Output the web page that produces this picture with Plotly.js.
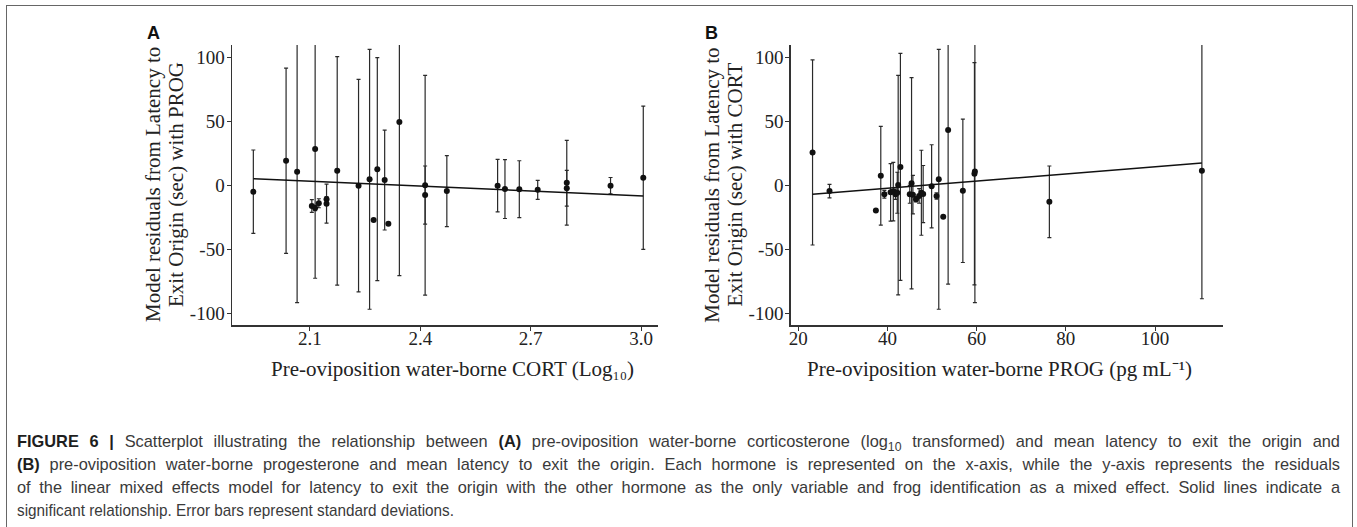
<!DOCTYPE html>
<html>
<head>
<meta charset="utf-8">
<script src="https://cdn.plot.ly/plotly-3.0.1.min.js"></script>
<style>
  html, body { margin: 0; padding: 0; background: #fff; width: 1357px; height: 527px; overflow: hidden; position: relative; }
  #frame { position: absolute; left: 6px; top: 5px; width: 1347px; height: 620px; border: 1.5px solid #666; box-sizing: border-box; pointer-events: none; }
  #chart { position: absolute; left: 0; top: 0; width: 1357px; height: 527px; }
  #caption { position: absolute; left: 0; top: 420px; width: 1357px; height: 107px; }
  .capline { position: absolute; left: 17px; height: 23px; line-height: 23px; white-space: nowrap;
             font-family: "Liberation Sans", Arial, sans-serif; font-size: 17px; color: #3a3a3a;
             transform-origin: 0 50%; text-align: left; }
  .capline.full { text-align: justify; text-align-last: justify; }
  .capline b { color: #1e1e1e; }
  .capline sub { font-size: 0.75em; line-height: 1; vertical-align: -0.3em; color: #3a3a3a; }
</style>
</head>
<body>
<div id="chart"></div>
<div id="frame"></div>
<div id="caption"></div>
<script>
// ---------------- Data ----------------
// Panel A: CORT (log10) vs residuals (model with PROG)
const cortX     = [1.946, 2.035, 2.065, 2.105, 2.114, 2.114, 2.124, 2.145, 2.145, 2.174, 2.232, 2.262, 2.273, 2.283, 2.303, 2.313, 2.343, 2.413, 2.413, 2.472, 2.610, 2.630, 2.669, 2.719, 2.798, 2.798, 2.917, 3.006];
const cortResid = [-4.7, 19.5, 10.9, -15.8, 28.7, -17.4, -13.7, -10.6, -14.0, 11.6, 0.0, 5.0, -26.8, 12.9, 4.4, -29.7, 49.8, 0.3, -7.3, -4.2, 0.0, -2.6, -2.7, -3.2, 2.3, -2.0, 0.0, 6.2];
const cortSD    = [32.6, 72.4, 102.3, 5.0, 101.0, 2.0, 3.5, 2.0, 15.2, 89.2, 83.0, 101.5, 0, 87.1, 39.0, 0, 120.1, 85.8, 22.7, 27.7, 20.5, 23.0, 22.2, 7.4, 33.1, 14.0, 6.4, 55.9];
const cortFitX  = [1.946, 3.006];
const cortFitY  = [5.5, -8.0];

// Panel B: PROG (pg/mL) vs residuals (model with CORT)
const progX     = [23.2, 27.0, 37.4, 38.5, 39.3, 40.7, 41.3, 41.8, 42.2, 42.4, 42.9, 45.0, 45.4, 45.7, 46.4, 47.1, 47.6, 48.0, 49.9, 51.0, 51.5, 52.5, 53.6, 56.9, 59.5, 59.6, 76.3, 110.5];
const progResid = [26.0, -4.2, -19.3, 7.8, -6.7, -5.2, -4.6, -6.7, -5.5, 0.5, 14.7, -6.7, 1.9, -7.0, -10.6, -8.0, -5.5, -6.5, -0.5, -8.0, 5.0, -24.3, 43.5, -4.0, 9.3, 11.0, -12.6, 11.7];
const progSD    = [72.3, 5.3, 0, 38.6, 3.0, 22.5, 22.8, 4.0, 16.0, 85.7, 88.7, 7.0, 82.5, 15.0, 2.0, 5.7, 33.2, 22.3, 32.5, 2.5, 101.5, 0, 120.3, 56.0, 86.8, 102.4, 28.0, 100.0];
const progFitX  = [23.2, 110.5];
const progFitY  = [-6.7, 17.7];

// Tick labels
const cortTickVals = [2.1, 2.4, 2.7, 3.0];
const cortTickText = ["2.1", "2.4", "2.7", "3.0"];
const progTickVals = [20, 40, 60, 80, 100];
const progTickText = ["20", "40", "60", "80", "100"];
const residTickVals = [-100, -50, 0, 50, 100];
const residTickText = ["-100", "-50", "0", "50", "100"];

// Texts
const yTitleA = ["Model residuals from Latency to", "Exit Origin (sec) with PROG"];
const yTitleB = ["Model residuals from Latency to", "Exit Origin (sec) with CORT"];
const xTitleA = "Pre-oviposition water-borne CORT (Log\u2081\u2080)";
const xTitleB = "Pre-oviposition water-borne PROG (pg mL\u207B\u00B9)";
const captionLines = [
  "<b>FIGURE 6 |</b> Scatterplot illustrating the relationship between <b>(A)</b> pre-oviposition water-borne corticosterone (log<sub>10</sub> transformed) and mean latency to exit the origin and",
  "<b>(B)</b> pre-oviposition water-borne progesterone and mean latency to exit the origin. Each hormone is represented on the x-axis, while the y-axis represents the residuals",
  "of the linear mixed effects model for latency to exit the origin with the other hormone as the only variable and frog identification as a mixed effect. Solid lines indicate a",
  "significant relationship. Error bars represent standard deviations."
];

// ---------------- Layout helpers ----------------
const W = 1357, H = 527;
const px = v => v / W;
const py = v => 1 - v / H;
const serif = "Liberation Serif, Times New Roman, serif";
const ink = "#222";

const errStyle = arr => ({ type: "data", array: arr, visible: true, color: "#2a2a2a", thickness: 1.2, width: 2 });
const markerStyle = () => ({ color: "#111", size: 6 });

const traces = [
  { x: cortX, y: cortResid, xaxis: "x", yaxis: "y", mode: "markers", type: "scatter", marker: markerStyle(), error_y: errStyle(cortSD), hoverinfo: "skip" },
  { x: cortFitX, y: cortFitY, xaxis: "x", yaxis: "y", mode: "lines", type: "scatter", line: { color: "#111", width: 1.5 }, hoverinfo: "skip" },
  { x: progX, y: progResid, xaxis: "x2", yaxis: "y2", mode: "markers", type: "scatter", marker: markerStyle(), error_y: errStyle(progSD), hoverinfo: "skip" },
  { x: progFitX, y: progFitY, xaxis: "x2", yaxis: "y2", mode: "lines", type: "scatter", line: { color: "#111", width: 1.5 }, hoverinfo: "skip" }
];

function axis(extra) {
  return Object.assign({
    showline: true, linecolor: "#333", linewidth: 1.5, ticks: "outside", ticklen: 4, tickwidth: 1, tickcolor: "#333",
    showgrid: false, zeroline: false, fixedrange: true, tickmode: "array",
    tickfont: { family: serif, size: 19, color: ink }
  }, extra);
}
const yDomain = [py(325), py(45)];
const titleFont = () => ({ family: serif, size: 21, color: ink });
const labelFont = () => ({ family: "Liberation Sans, Arial, sans-serif", size: 18, color: "#111", weight: "bold" });
const ann = (text, x, y, font, angle) => ({ text, x: px(x), y: py(y), xref: "paper", yref: "paper", xanchor: "center", yanchor: "middle", showarrow: false, textangle: angle || 0, font });

const layout = {
  width: W, height: H, margin: { l: 0, r: 0, t: 0, b: 0 },
  font: { family: serif, size: 19, color: ink },
  paper_bgcolor: "rgba(0,0,0,0)", plot_bgcolor: "rgba(0,0,0,0)", showlegend: false,
  xaxis:  axis({ domain: [px(232), px(658)], range: [1.888, 3.046], tickvals: cortTickVals, ticktext: cortTickText, anchor: "y", ticklabelstandoff: -8 }),
  yaxis:  axis({ domain: yDomain, range: [-108.8, 109.9], tickvals: residTickVals, ticktext: residTickText, anchor: "x", ticklabelstandoff: -2 }),
  xaxis2: axis({ domain: [px(790.7), px(1223.3)], range: [18.3, 115.3], tickvals: progTickVals, ticktext: progTickText, anchor: "y2", ticklabelstandoff: -8 }),
  yaxis2: axis({ domain: yDomain, range: [-108.8, 109.9], tickvals: residTickVals, ticktext: residTickText, anchor: "x2", ticklabelstandoff: -2 }),
  annotations: [
    ann("A", 153, 33, labelFont()),
    ann("B", 711.5, 33, labelFont()),
    ann(yTitleA[0], 153, 185, titleFont(), -90),
    ann(yTitleA[1], 176, 185, titleFont(), -90),
    ann(yTitleB[0], 711.7, 185, titleFont(), -90),
    ann(yTitleB[1], 734.5, 185, titleFont(), -90),
    ann(xTitleA, 452.5, 369, titleFont()),
    ann(xTitleB, 999.5, 369, titleFont())
  ]
};

Plotly.newPlot("chart", traces, layout, { staticPlot: true, displayModeBar: false });

// ---------------- Caption (justified lines) ----------------
const cap = document.getElementById("caption");
const lineCenters = [441, 464, 487, 510];
const fullWidth = 1323, lastWidth = 437;
const divs = captionLines.map((t, i) => {
  const d = document.createElement("div");
  d.className = "capline";
  d.style.top = (lineCenters[i] - 420 - 11.5) + "px";
  d.innerHTML = "<span>" + t + "</span>";
  cap.appendChild(d);
  return d;
});
function fitCaption() {
  divs.forEach(d => { d.classList.remove("full"); d.style.transform = ""; d.style.width = "auto"; });
  const widths = divs.map(d => d.firstChild.getBoundingClientRect().width);
  const n = divs.length;
  let base = lastWidth / widths[n - 1];
  for (let i = 0; i < n - 1; i++) base = Math.min(base, (fullWidth - 2) / widths[i]);
  base = Math.min(base, 1);
  divs.forEach((d, i) => {
    let s = base;
    if (i < n - 1) {
      s = Math.min((fullWidth - 6) / widths[i], base * 1.07);
      d.classList.add("full");
      d.style.width = (fullWidth / s) + "px";
    }
    d.style.transform = "scaleX(" + s + ")";
  });
}
fitCaption();
if (document.fonts && document.fonts.ready) { document.fonts.ready.then(fitCaption); }
</script>
</body>
</html>
